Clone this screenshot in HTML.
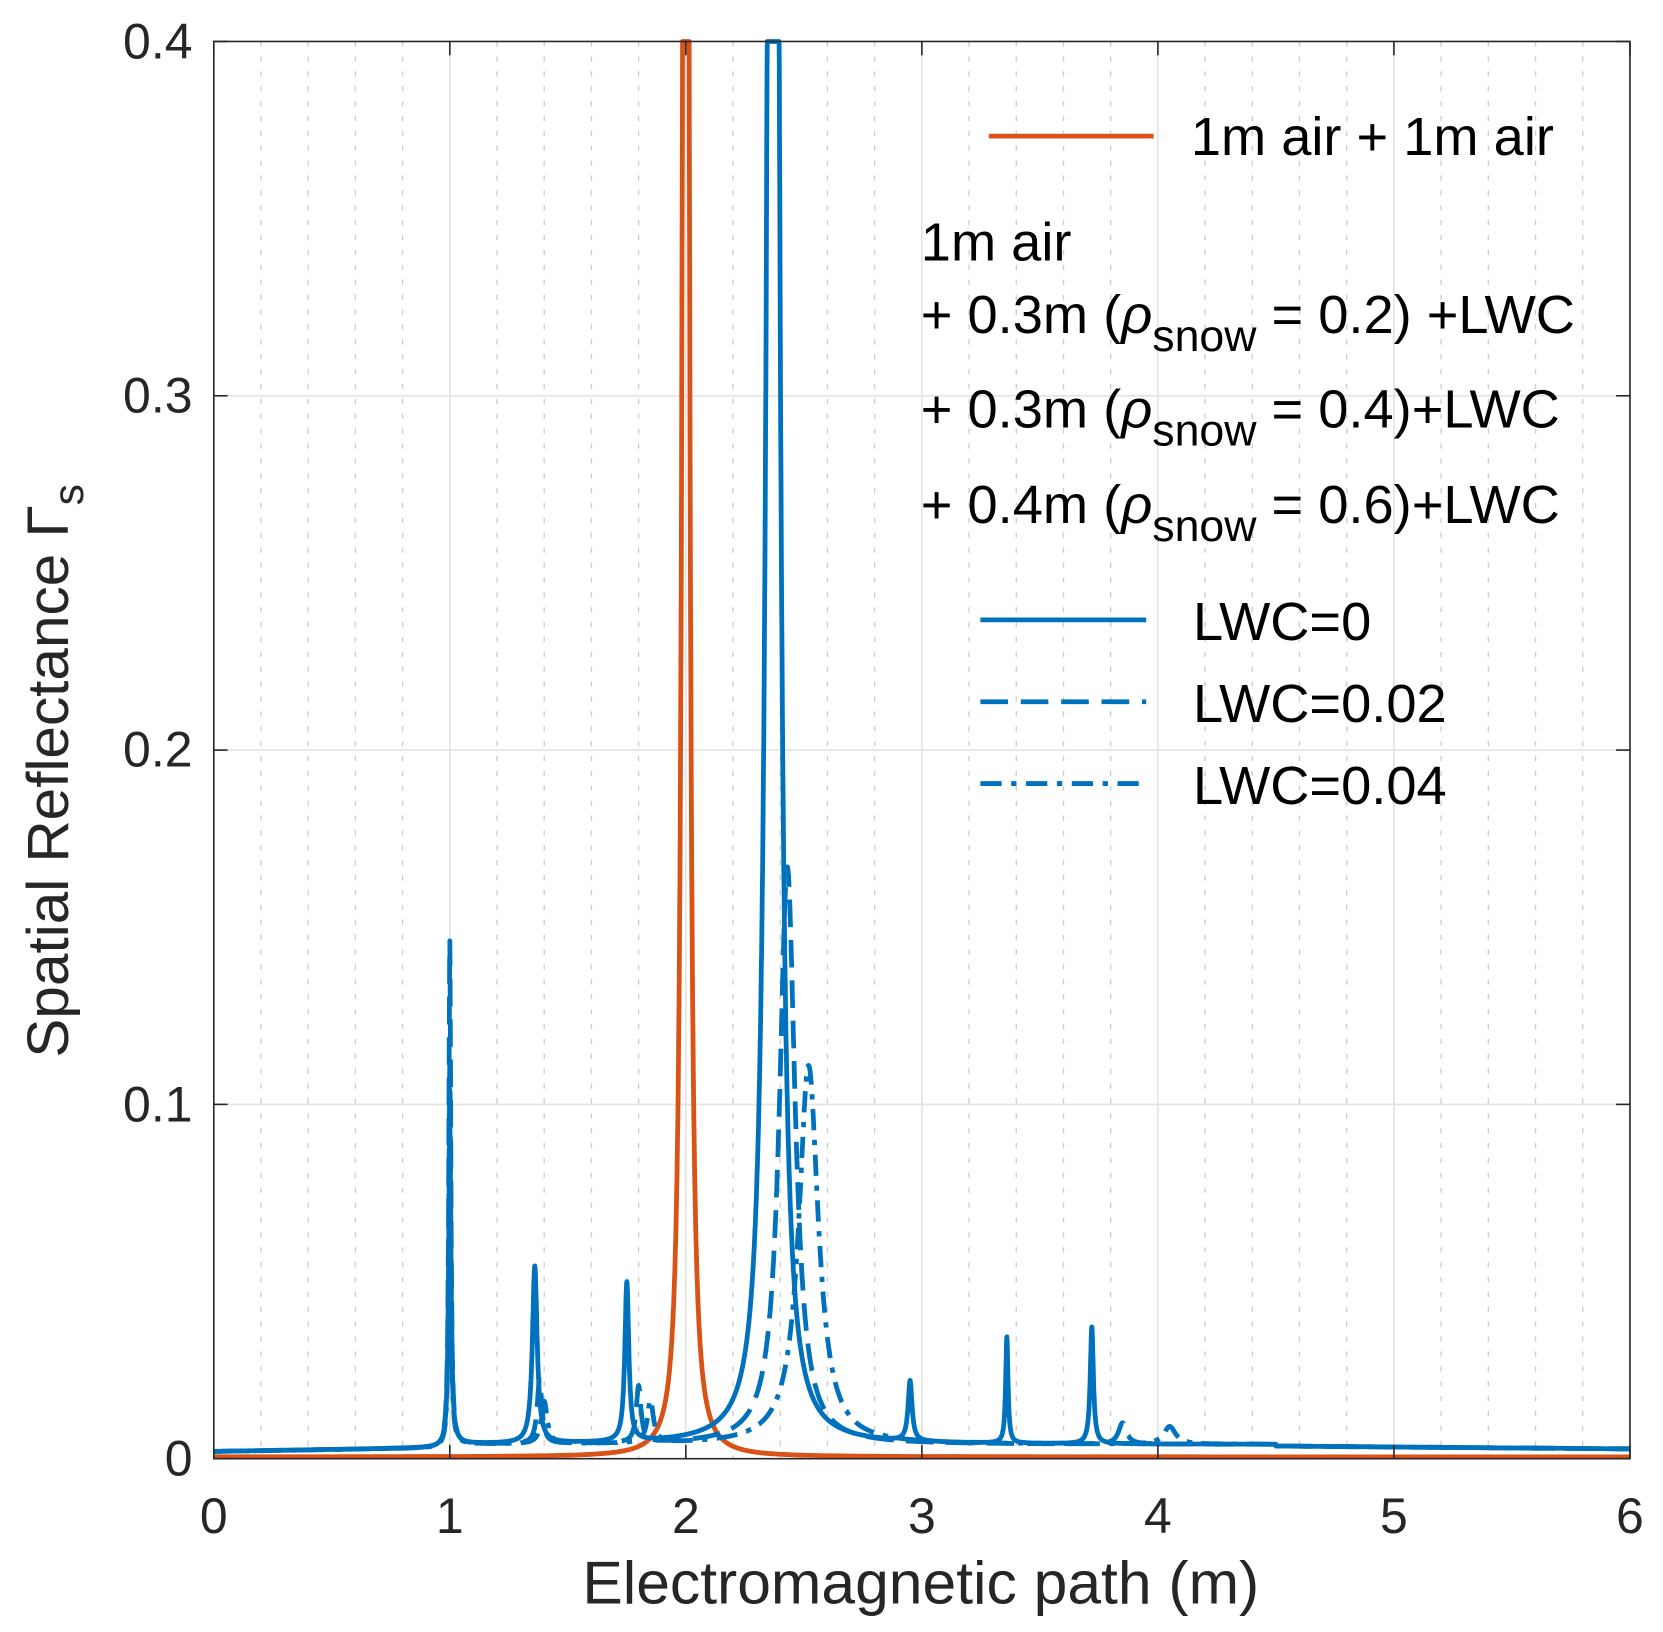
<!DOCTYPE html>
<html><head><meta charset="utf-8"><style>html,body{margin:0;padding:0;background:#fff}svg{display:block}</style></head>
<body>
<svg id="s" xmlns="http://www.w3.org/2000/svg" width="1663" height="1632" viewBox="0 0 1564 1535" font-family="Liberation Sans, Arial, sans-serif">
<rect width="1564" height="1535" fill="#fff"/>
<g id="grid"></g>
<g id="curves" fill="none" stroke-width="4.5" stroke-linejoin="round"></g>
<rect x="201" y="39" width="1332" height="1333" fill="none" stroke="#262626" stroke-width="1.5"/>
<g id="ticks" stroke="#262626" stroke-width="1.5"></g>
<g font-size="47" fill="#262626">
<text x="201" y="1442" text-anchor="middle">0</text>
<text x="423" y="1442" text-anchor="middle">1</text>
<text x="645" y="1442" text-anchor="middle">2</text>
<text x="867" y="1442" text-anchor="middle">3</text>
<text x="1089" y="1442" text-anchor="middle">4</text>
<text x="1311" y="1442" text-anchor="middle">5</text>
<text x="1533" y="1442" text-anchor="middle">6</text>
<text x="181" y="1388" text-anchor="end">0</text>
<text x="181" y="1055" text-anchor="end">0.1</text>
<text x="181" y="721" text-anchor="end">0.2</text>
<text x="181" y="388" text-anchor="end">0.3</text>
<text x="181" y="55" text-anchor="end">0.4</text>
</g>
<text x="866" y="1508" font-size="57" text-anchor="middle" fill="#262626">Electromagnetic path (m)</text>
<g transform="translate(64,725) rotate(-90)"><text x="0" y="0" font-size="55" text-anchor="middle" fill="#262626">Spatial Reflectance Γ<tspan font-size="40" dy="14">s</tspan></text></g>
<g font-size="51" fill="#000">
<line x1="930" y1="128" x2="1085" y2="128" stroke="#D95319" stroke-width="4.5"/>
<text x="1120" y="146">1m air + 1m air</text>
<text x="866" y="245">1m air</text>
<text x="866" y="313">+ 0.3m (<tspan font-style="italic">ρ</tspan><tspan font-size="42" dy="17">snow</tspan><tspan dy="-17"> = 0.2) +LWC</tspan></text>
<text x="866" y="402">+ 0.3m (<tspan font-style="italic">ρ</tspan><tspan font-size="42" dy="17">snow</tspan><tspan dy="-17"> = 0.4)+LWC</tspan></text>
<text x="866" y="492">+ 0.4m (<tspan font-style="italic">ρ</tspan><tspan font-size="42" dy="17">snow</tspan><tspan dy="-17"> = 0.6)+LWC</tspan></text>
<line x1="922" y1="583" x2="1078" y2="583" stroke="#0072BD" stroke-width="4.5"/>
<line x1="922" y1="660" x2="1078" y2="660" stroke="#0072BD" stroke-width="4.5" stroke-dasharray="26,12"/>
<line x1="922" y1="737" x2="1078" y2="737" stroke="#0072BD" stroke-width="4.5" stroke-dasharray="20,9,5,9"/>
<text x="1122" y="602">LWC=0</text>
<text x="1122" y="679">LWC=0.02</text>
<text x="1122" y="756">LWC=0.04</text>
</g>
<script>
(function(){
var NS="http://www.w3.org/2000/svg";
function X(v){return 201+v*222;}function Y(v){return 1372-Math.min(v,0.4)*3332.5;}
var g=document.getElementById('grid'),t=document.getElementById('ticks'),c=document.getElementById('curves');
function ln(p,a){var e=document.createElementNS(NS,'line');for(var k in a)e.setAttribute(k,a[k]);p.appendChild(e);}
for(var i=1;i<30;i++){var x=X(i*0.2);if(i%5==0)ln(g,{x1:x,y1:39,x2:x,y2:1372,stroke:'#e3e3e3','stroke-width':1.5});else ln(g,{x1:x,y1:39,x2:x,y2:1372,stroke:'#cfcfcf','stroke-width':1.3,'stroke-dasharray':'5,9'});}
for(var j=1;j<4;j++){var y=Y(j*0.1);ln(g,{x1:201,y1:y,x2:1533,y2:y,stroke:'#e3e3e3','stroke-width':1.5});}
for(var i=0;i<=6;i++){var x=X(i);ln(t,{x1:x,y1:1372,x2:x,y2:1359});ln(t,{x1:x,y1:39,x2:x,y2:52});}
for(var j=0;j<=4;j++){var y=Y(j*0.1);ln(t,{x1:201,y1:y,x2:214,y2:y});ln(t,{x1:1533,y1:y,x2:1520,y2:y});}
function L(x,c0,a,w){var d=x-c0;return a*w*w/(d*d+w*w);}
function path(f,col,dash){var d='';for(var i=0;i<=6000;i++){var x=i/1000;d+=(i?'L':'M')+X(x).toFixed(1)+','+Y(f(x)).toFixed(1);}
var e=document.createElementNS(NS,'path');e.setAttribute('d',d);e.setAttribute('stroke',col);if(dash)e.setAttribute('stroke-dasharray',dash);c.appendChild(e);}
function base(x){return x<1?0.002+0.001*x:(x<4.5?0.004:0.0035-0.0005*(x-4.5));}
path(function(x){return 0.0005+L(x,2.0,1.2,0.01);},'#D95319');
path(function(x){return base(x)+L(x,1.0,0.09,0.006)+L(x,1.36,0.05,0.012)+L(x,1.75,0.045,0.01)+L(x,2.37,1.3,0.017)+L(x,2.95,0.017,0.01)+L(x,3.36,0.03,0.006)+L(x,3.72,0.033,0.008);},'#0072BD');
path(function(x){return base(x)+L(x,1.0,0.142,0.005)+L(x,1.38,0.018,0.012)+L(x,1.8,0.016,0.012)+L(x,2.43,0.163,0.04)+L(x,3.85,0.006,0.02);},'#0072BD','26,12');
path(function(x){return base(x)+L(x,1.0,0.108,0.005)+L(x,1.4,0.012,0.015)+L(x,1.85,0.012,0.015)+L(x,2.52,0.107,0.05)+L(x,4.05,0.005,0.03);},'#0072BD','20,9,5,9');
})();
</script>
</svg>
</body></html>
